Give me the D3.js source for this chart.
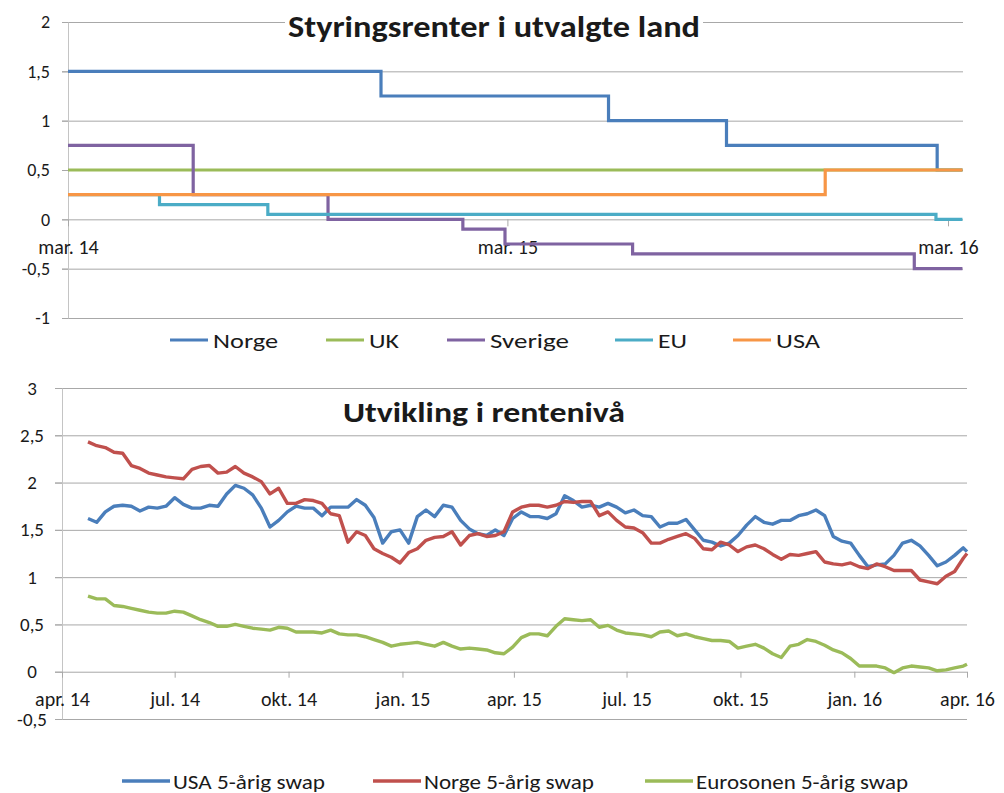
<!DOCTYPE html>
<html>
<head>
<meta charset="utf-8">
<script src="https://cdn.jsdelivr.net/npm/d3@7"></script>
<style>
  body { margin: 0; background: #fff; }
  svg text { font-family: Carlito, Lato, "Open Sans", sans-serif; fill: #1a1a1a; }
</style>
</head>
<body>
<script>
const width = 1004, height = 793;
const parse = d3.timeParse("%Y-%m-%d");

// ---- top chart: styringsrenter (step series: [change date, level]) ----
const topNames = ["Norge", "UK", "Sverige", "EU", "USA"];
const topColors = ["#4a7ebb", "#9bbb59", "#7f63a1", "#4bacc6", "#f79646"];
const norgeSteps = [["2014-03-01", 1.5], ["2014-11-16", 1.25], ["2015-05-24", 1.0], ["2015-08-30", 0.75], ["2016-02-21", 0.5], ["2016-03-13", 0.5]];
const ukSteps = [["2014-03-01", 0.5], ["2016-03-13", 0.5]];
const sverigeSteps = [["2014-03-01", 0.75], ["2014-06-13", 0.25], ["2014-10-03", 0], ["2015-01-23", -0.1], ["2015-02-27", -0.25], ["2015-06-13", -0.35], ["2016-02-02", -0.5], ["2016-03-13", -0.5]];
const euSteps = [["2014-03-01", 0.25], ["2014-05-16", 0.15], ["2014-08-14", 0.05], ["2016-02-20", 0], ["2016-03-13", 0]];
const usaSteps = [["2014-03-01", 0.25], ["2015-11-20", 0.5], ["2016-03-13", 0.5]];
const topTickDates = ["2014-03-01", "2015-03-01", "2016-03-01"];
const topTickLabels = ["mar. 14", "mar. 15", "mar. 16"];
const topYTicks = [-1, -0.5, 0, 0.5, 1, 1.5, 2];

// ---- bottom chart: 5-årig swap, weekly readings from 2014-04-22, last on 2016-04-01 ----
const swapNames = ["USA 5-årig swap", "Norge 5-årig swap", "Eurosonen 5-årig swap"];
const swapColors = ["#4a7ebb", "#c0504d", "#9bbb59"];
const swapFirst = "2014-04-22", swapLast = "2016-04-01";
const usaSwap = [
  1.62,1.58,1.69,1.75,1.76,1.75,1.70,1.74,1.73,1.75,
  1.84,1.77,1.73,1.73,1.76,1.75,1.88,1.97,1.94,1.87,
  1.73,1.53,1.60,1.69,1.75,1.73,1.73,1.65,1.74,1.74,
  1.74,1.82,1.76,1.63,1.36,1.48,1.50,1.36,1.64,1.71,
  1.64,1.76,1.74,1.60,1.51,1.46,1.44,1.50,1.44,1.62,
  1.69,1.64,1.64,1.62,1.67,1.86,1.81,1.74,1.76,1.74,
  1.78,1.74,1.68,1.71,1.65,1.64,1.53,1.57,1.57,1.61,
  1.50,1.39,1.37,1.33,1.36,1.44,1.55,1.64,1.58,1.56,
  1.60,1.60,1.65,1.67,1.71,1.65,1.43,1.38,1.36,1.23,
  1.11,1.13,1.14,1.23,1.36,1.39,1.33,1.23,1.12,1.16,
  1.23,1.31,1.27];
const norgeSwap = [
  2.43,2.39,2.37,2.32,2.31,2.18,2.15,2.10,2.08,2.06,
  2.05,2.04,2.14,2.17,2.18,2.10,2.11,2.17,2.10,2.06,
  2.01,1.88,1.94,1.78,1.78,1.82,1.81,1.78,1.67,1.65,
  1.37,1.48,1.44,1.30,1.25,1.21,1.15,1.26,1.30,1.39,
  1.42,1.43,1.48,1.34,1.44,1.46,1.43,1.44,1.48,1.69,
  1.74,1.76,1.76,1.74,1.76,1.80,1.79,1.80,1.80,1.65,
  1.69,1.60,1.53,1.52,1.47,1.36,1.36,1.40,1.43,1.46,
  1.41,1.30,1.29,1.37,1.34,1.27,1.32,1.34,1.30,1.24,
  1.19,1.24,1.23,1.25,1.27,1.16,1.14,1.13,1.15,1.11,
  1.09,1.14,1.11,1.07,1.07,1.07,0.97,0.95,0.93,1.01,
  1.06,1.20,1.25];
const euroSwap = [
  0.80,0.77,0.77,0.70,0.69,0.67,0.65,0.63,0.62,0.62,
  0.64,0.63,0.59,0.55,0.52,0.48,0.48,0.50,0.48,0.46,
  0.45,0.44,0.47,0.46,0.42,0.42,0.42,0.41,0.44,0.40,
  0.39,0.39,0.37,0.34,0.31,0.27,0.29,0.30,0.31,0.29,
  0.27,0.31,0.27,0.24,0.25,0.24,0.23,0.20,0.19,0.26,
  0.36,0.40,0.40,0.38,0.48,0.56,0.55,0.54,0.55,0.47,
  0.49,0.44,0.41,0.40,0.39,0.37,0.42,0.43,0.38,0.40,
  0.37,0.35,0.33,0.33,0.32,0.25,0.27,0.29,0.25,0.19,
  0.15,0.27,0.29,0.34,0.32,0.28,0.23,0.20,0.14,0.06,
  0.06,0.06,0.04,-0.01,0.04,0.06,0.05,0.04,0.01,0.02,
  0.04,0.06,0.08];
const bottomYTicks = [-0.5, 0, 0.5, 1, 1.5, 2, 2.5, 3];
const monthsNo = ["jan.", "feb.", "mar.", "apr.", "mai", "jun.", "jul.", "aug.", "sep.", "okt.", "nov.", "des."];

const fmt = d3.formatLocale({decimal: ",", thousands: " ", grouping: [3], currency: ["", "kr"], minus: "-"}).format("");

const svg = d3.select("body").append("svg")
  .attr("width", width)
  .attr("height", height);

function styleAxis(g, lineColor) {
  g.selectAll("line").attr("stroke", lineColor);
  g.selectAll("path.domain").attr("stroke", lineColor);
  g.selectAll("text").attr("fill", "#1a1a1a");
}

// ================= TOP =================
const xTop = d3.scaleTime().domain([parse("2014-03-01"), parse("2016-03-01")]).range([68, 948]);
const yTop = d3.scaleLinear().domain([-1, 2]).range([318, 22]);

// gridlines
svg.append("g")
  .attr("transform", "translate(62,0)")
  .call(d3.axisRight(yTop).tickValues(topYTicks).tickSize(901).tickFormat(""))
  .call(g => g.select(".domain").remove())
  .call(g => styleAxis(g, "#a8a8a8"));

// y axis labels
svg.append("g")
  .attr("transform", "translate(68,0)")
  .call(d3.axisLeft(yTop).tickValues(topYTicks).tickSize(6).tickSizeOuter(0).tickPadding(12).tickFormat(fmt))
  .call(g => g.selectAll("text").attr("font-size", 18))
  .call(g => styleAxis(g, "#a8a8a8"))
  .call(g => g.select(".domain").attr("stroke", "#c4c4c4"));

// x axis at zero
svg.append("g")
  .attr("transform", `translate(0,${yTop(0)})`)
  .call(d3.axisBottom(xTop).tickValues(topTickDates.map(parse)).tickSize(7).tickPadding(13)
    .tickFormat((d, i) => topTickLabels[i]))
  .call(g => g.select(".domain").remove())
  .call(g => g.selectAll("text").attr("font-size", 20))
  .call(g => styleAxis(g, "#a8a8a8"));

const stepLine = d3.line()
  .x(d => xTop(parse(d[0])))
  .y(d => yTop(d[1]))
  .curve(d3.curveStepAfter);

const topData = [norgeSteps, ukSteps, sverigeSteps, euSteps, usaSteps];
svg.append("g").selectAll("path")
  .data(topData)
  .join("path")
  .attr("d", stepLine)
  .attr("fill", "none")
  .attr("stroke", (d, i) => topColors[i])
  .attr("stroke-width", 3.2);

// title with white box
const t1 = svg.append("text")
  .attr("x", 288).attr("y", 37)
  .attr("font-size", 30).attr("font-weight", "bold")
  .attr("textLength", 412).attr("lengthAdjust", "spacingAndGlyphs")
  .text("Styringsrenter i utvalgte land");
const b1 = t1.node().getBBox();
svg.insert("rect", () => t1.node())
  .attr("x", b1.x - 3).attr("y", b1.y).attr("width", b1.width + 6).attr("height", b1.height)
  .attr("fill", "#fff");

// legend
const topLegX = [170, 326, 447, 615, 733];
const topLegW = [65, 30, 79, 29, 44];
const leg1 = svg.append("g").selectAll("g")
  .data(topNames)
  .join("g")
  .attr("transform", (d, i) => `translate(${topLegX[i]},340)`);
leg1.append("line")
  .attr("x1", 0).attr("x2", 38)
  .attr("stroke", (d, i) => topColors[i]).attr("stroke-width", 3.2);
leg1.append("text")
  .attr("x", 43).attr("y", 7.5)
  .attr("font-size", 21)
  .attr("textLength", (d, i) => topLegW[i]).attr("lengthAdjust", "spacingAndGlyphs")
  .text(d => d);

// ================= BOTTOM =================
const xBot = d3.scaleTime().domain([parse("2014-04-01"), parse("2016-04-01")]).range([62, 967]);
const yBot = d3.scaleLinear().domain([-0.5, 3]).range([719, 388]);

svg.append("g")
  .attr("transform", "translate(55,0)")
  .call(d3.axisRight(yBot).tickValues(bottomYTicks).tickSize(912).tickFormat(""))
  .call(g => g.select(".domain").remove())
  .call(g => styleAxis(g, "#a8a8a8"));

svg.append("g")
  .attr("transform", "translate(62,0)")
  .call(d3.axisLeft(yBot).tickValues(bottomYTicks).tickSize(7).tickSizeOuter(0).tickPadding(5).tickFormat(fmt))
  .call(g => g.selectAll("text").attr("font-size", 19).attr("text-anchor", "middle").attr("x", -30))
  .call(g => styleAxis(g, "#a8a8a8"))
  .call(g => g.select(".domain").attr("stroke", "#c4c4c4"));

svg.append("g")
  .attr("transform", `translate(0,${yBot(0)})`)
  .call(d3.axisBottom(xBot).ticks(d3.timeMonth.every(3)).tickSize(6).tickPadding(14)
    .tickFormat(d => monthsNo[d.getMonth()] + " " + d3.timeFormat("%y")(d)))
  .call(g => g.select(".domain").remove())
  .call(g => g.selectAll("text").attr("font-size", 20))
  .call(g => styleAxis(g, "#a8a8a8"));

// weekly dates for the swap readings
const nWeeks = usaSwap.length - 1;
const swapDates = d3.range(nWeeks).map(i => d3.timeDay.offset(parse(swapFirst), 7 * i));
swapDates.push(parse(swapLast));

const swapLine = d3.line()
  .x((d, i) => xBot(swapDates[i]))
  .y(d => yBot(d));

svg.append("g").selectAll("path")
  .data([usaSwap, norgeSwap, euroSwap])
  .join("path")
  .attr("d", swapLine)
  .attr("fill", "none")
  .attr("stroke", (d, i) => swapColors[i])
  .attr("stroke-width", 3.4)
  .attr("stroke-linejoin", "round");

svg.append("text")
  .attr("x", 343).attr("y", 422)
  .attr("font-size", 28).attr("font-weight", "bold")
  .attr("textLength", 282).attr("lengthAdjust", "spacingAndGlyphs")
  .text("Utvikling i rentenivå");

const botLegX = [122, 373, 645];
const botLegW = [152, 170, 212];
const leg2 = svg.append("g").selectAll("g")
  .data(swapNames)
  .join("g")
  .attr("transform", (d, i) => `translate(${botLegX[i]},781)`);
leg2.append("line")
  .attr("x1", 0).attr("x2", 48)
  .attr("stroke", (d, i) => swapColors[i]).attr("stroke-width", 3.4);
leg2.append("text")
  .attr("x", 51).attr("y", 7.5)
  .attr("font-size", 21)
  .attr("textLength", (d, i) => botLegW[i]).attr("lengthAdjust", "spacingAndGlyphs")
  .text(d => d);
</script>
</body>
</html>
